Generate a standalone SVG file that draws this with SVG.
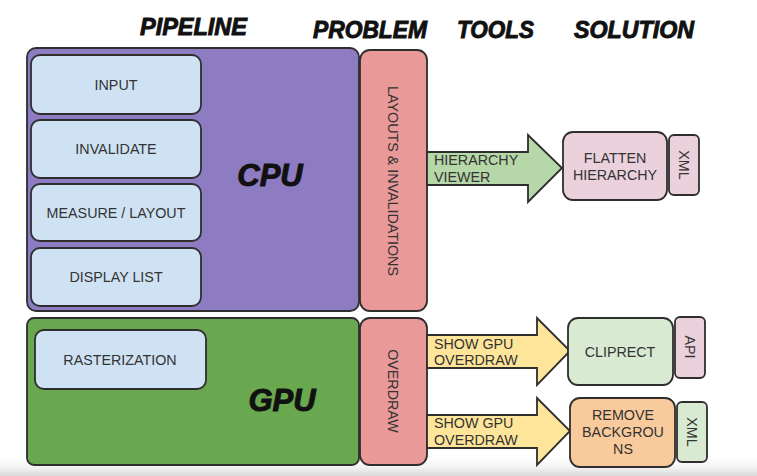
<svg xmlns="http://www.w3.org/2000/svg" width="757" height="476" viewBox="0 0 757 476">
<defs>
<linearGradient id="shade" x1="0" y1="0" x2="0" y2="1">
<stop offset="0" stop-color="#ffffff" stop-opacity="0"/>
<stop offset="1" stop-color="#d8d8d8"/>
</linearGradient>
</defs>
<style>
.box{stroke:#2e2e2e;stroke-width:1.8}
.hdr{font-family:"Liberation Sans",Arial,sans-serif;font-weight:bold;font-style:italic;font-size:23px;fill:#111;stroke:#111;stroke-width:0.9}
.big{font-family:"Liberation Sans",Arial,sans-serif;font-weight:bold;font-style:italic;font-size:31px;fill:#111;stroke:#111;stroke-width:1}
.lbl{font-family:"Liberation Sans",Arial,sans-serif;font-size:14.3px;fill:#333;text-anchor:middle;dominant-baseline:central}
.tl{font-family:"Liberation Sans",Arial,sans-serif;font-size:14.3px;fill:#333;dominant-baseline:central}
.inner{fill:#cfe2f3}
.arrow{stroke:#2e2e2e;stroke-width:1.8;stroke-linejoin:miter}
</style>
<rect width="757" height="476" fill="#ffffff"/>
<rect x="0" y="455" width="757" height="21" fill="url(#shade)"/>

<g id="headers">
<text class="hdr" x="140" y="35" textLength="107" lengthAdjust="spacingAndGlyphs">PIPELINE</text>
<text class="hdr" x="313" y="38" textLength="114" lengthAdjust="spacingAndGlyphs">PROBLEM</text>
<text class="hdr" x="457" y="38" textLength="77" lengthAdjust="spacingAndGlyphs">TOOLS</text>
<text class="hdr" x="574" y="38" textLength="120" lengthAdjust="spacingAndGlyphs">SOLUTION</text>
</g>

<g id="cpu">
<rect class="box" x="27" y="48" width="332" height="263" rx="9" fill="#8e7cc3"/>
<text class="big" x="270" y="186" text-anchor="middle">CPU</text>
</g>
<g id="input"><rect class="box inner" x="31" y="55" width="170" height="59" rx="9"/><text class="lbl" x="116" y="85">INPUT</text></g>
<g id="invalidate"><rect class="box inner" x="31" y="120" width="170" height="58" rx="9"/><text class="lbl" x="116" y="149">INVALIDATE</text></g>
<g id="measure"><rect class="box inner" x="31" y="184" width="170" height="57" rx="9"/><text class="lbl" x="116" y="213">MEASURE / LAYOUT</text></g>
<g id="displaylist"><rect class="box inner" x="31" y="248" width="170" height="58" rx="9"/><text class="lbl" x="116" y="277">DISPLAY LIST</text></g>

<g id="gpu">
<rect class="box" x="27" y="318" width="332" height="147" rx="7" fill="#6aa84f"/>
<text class="big" x="282" y="411" text-anchor="middle">GPU</text>
</g>
<g id="rasterization"><rect class="box inner" x="35" y="330" width="171" height="59" rx="9"/><text class="lbl" x="120" y="360">RASTERIZATION</text></g>

<g id="layouts">
<rect class="box" x="360" y="50" width="67" height="261" rx="10" fill="#ea9999"/>
<text class="lbl" transform="translate(393,181) rotate(90)">LAYOUTS &amp; INVALIDATIONS</text>
</g>
<g id="overdraw">
<rect class="box" x="360" y="318" width="67" height="147" rx="10" fill="#ea9999"/>
<text class="lbl" transform="translate(393,391) rotate(90)">OVERDRAW</text>
</g>

<g id="connectors">
<g id="arrow-hierarchy">
<path class="arrow" fill="#b6d7a8" d="M427,152 H528 V135 L562,168 L528,202 V185 H427 Z"/>
<text class="tl" x="434" y="160">HIERARCHY</text>
<text class="tl" x="434" y="177">VIEWER</text>
</g>
<g id="arrow-overdraw1">
<path class="arrow" fill="#ffe599" d="M427,335 H537 V318 L570,351 L537,385 V368 H427 Z"/>
<text class="tl" x="434" y="344">SHOW GPU</text>
<text class="tl" x="434" y="360">OVERDRAW</text>
</g>
<g id="arrow-overdraw2">
<path class="arrow" fill="#ffe599" d="M427,415 H537 V398 L570,431 L537,465 V448 H427 Z"/>
<text class="tl" x="434" y="423">SHOW GPU</text>
<text class="tl" x="434" y="440">OVERDRAW</text>
</g>
</g>

<g id="flatten">
<rect class="box" x="563" y="132" width="104" height="68" rx="10" fill="#ead1dc"/>
<text class="lbl" x="615" y="158">FLATTEN</text>
<text class="lbl" x="615" y="175">HIERARCHY</text>
</g>
<g id="xml1">
<rect class="box" x="669" y="135" width="30" height="60" rx="5" fill="#ead1dc"/>
<text class="lbl" transform="translate(684,165) rotate(90)">XML</text>
</g>
<g id="cliprect">
<rect class="box" x="568" y="318" width="105" height="67" rx="10" fill="#d9ead3"/>
<text class="lbl" x="620" y="352">CLIPRECT</text>
</g>
<g id="api">
<rect class="box" x="675" y="317" width="30" height="61" rx="5" fill="#ead1dc"/>
<text class="lbl" transform="translate(690,347) rotate(90)">API</text>
</g>
<g id="remove">
<rect class="box" x="570" y="398" width="105" height="69" rx="10" fill="#f9cb9c"/>
<text class="lbl" x="623" y="415">REMOVE</text>
<text class="lbl" x="623" y="432">BACKGROU</text>
<text class="lbl" x="623" y="449">NS</text>
</g>
<g id="xml2">
<rect class="box" x="677" y="402" width="30" height="60" rx="5" fill="#d9ead3"/>
<text class="lbl" transform="translate(692,432) rotate(90)">XML</text>
</g>
</svg>
